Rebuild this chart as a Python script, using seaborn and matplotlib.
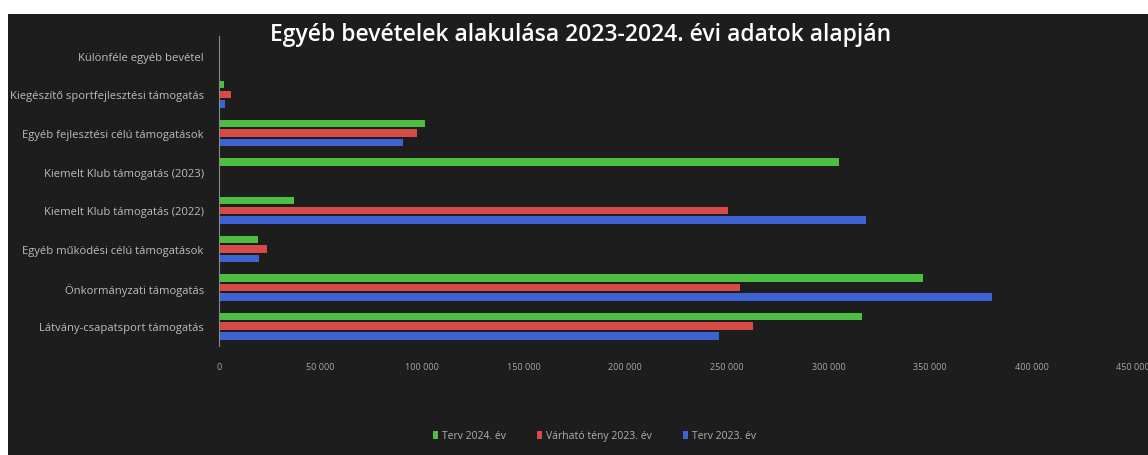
import numpy as np
import pandas as pd
import matplotlib
matplotlib.use("Agg")
import matplotlib.pyplot as plt
from matplotlib.patches import Rectangle
import seaborn as sns

categories = [
    "Különféle egyéb bevétel",
    "Kiegészítő sportfejlesztési támogatás",
    "Egyéb fejlesztési célú támogatások",
    "Kiemelt Klub támogatás (2023)",
    "Kiemelt Klub támogatás (2022)",
    "Egyéb működési célú támogatások",
    "Önkormányzati támogatás",
    "Látvány-csapatsport támogatás",
]
terv_2024 = [0, 2500, 101500, 305400, 37000, 19200, 346800, 316300]
varhato_2023 = [0, 6000, 97500, 0, 250700, 23600, 256700, 263000]
terv_2023 = [0, 3000, 90600, 0, 318700, 19700, 380300, 246300]
series = ["Terv 2024. év", "Várható tény 2023. év", "Terv 2023. év"]
colors = ["#4cbf42", "#d84a48", "#3d63d2"]
xticks = [0, 50000, 100000, 150000, 200000, 250000, 300000, 350000, 400000, 450000]

df = pd.DataFrame({
    "kategoria": categories * 3,
    "sorozat": [series[0]] * 8 + [series[1]] * 8 + [series[2]] * 8,
    "ertek": terv_2024 + varhato_2023 + terv_2023,
})

sns.set_theme(style="dark")
plt.rcParams["font.family"] = ["Open Sans", "DejaVu Sans"]

bg = "#1d1d1d"
fig = plt.figure(figsize=(11.48, 4.56), dpi=100, facecolor="white")
fig.patches.append(Rectangle((8 / 1148, 0), 1 - 8 / 1148, 1 - 15 / 456,
                             transform=fig.transFigure, facecolor=bg,
                             edgecolor="none", zorder=-10))
ax = fig.add_axes([0.1908, 0.240, 0.987 - 0.1908, 0.918 - 0.240])
ax.set_facecolor("none")

sns.barplot(data=df, y="kategoria", x="ertek", hue="sorozat",
            hue_order=series, palette=colors, orient="h",
            width=0.75, gap=0.22, saturation=1, linewidth=0,
            ax=ax, legend=True)

ax.set_xlim(0, 450000)
ax.set_xticks(xticks)
ax.set_xticklabels([f"{t:,}".replace(",", " ") for t in xticks],
                   color="#a8a8a8", fontsize=6.5)
ax.tick_params(axis="y", labelsize=8.1, colors="#bcbcbc", length=0, pad=11)
ax.tick_params(axis="x", length=0, pad=12)
ax.set_xlabel("")
ax.set_ylabel("")
ax.grid(False)
for s in ["top", "right", "bottom"]:
    ax.spines[s].set_visible(False)
ax.spines["left"].set_color("#8a8a8a")
ax.spines["left"].set_linewidth(0.8)

fig.text(0.506, 0.924, "Egyéb bevételek alakulása 2023-2024. évi adatok alapján",
         ha="center", va="center", color="white", fontsize=16.5,
         fontweight="semibold")

handles, labels = ax.get_legend_handles_labels()
ax.get_legend().remove()
fig.legend(handles, labels, loc="center", bbox_to_anchor=(0.518, 0.042),
           ncol=3, frameon=False, fontsize=7.5, labelcolor="#b0b0b0",
           handlelength=0.45, handleheight=0.8, handletextpad=0.4,
           columnspacing=3.0)

fig.savefig("out.png", dpi=100, facecolor=fig.get_facecolor())
